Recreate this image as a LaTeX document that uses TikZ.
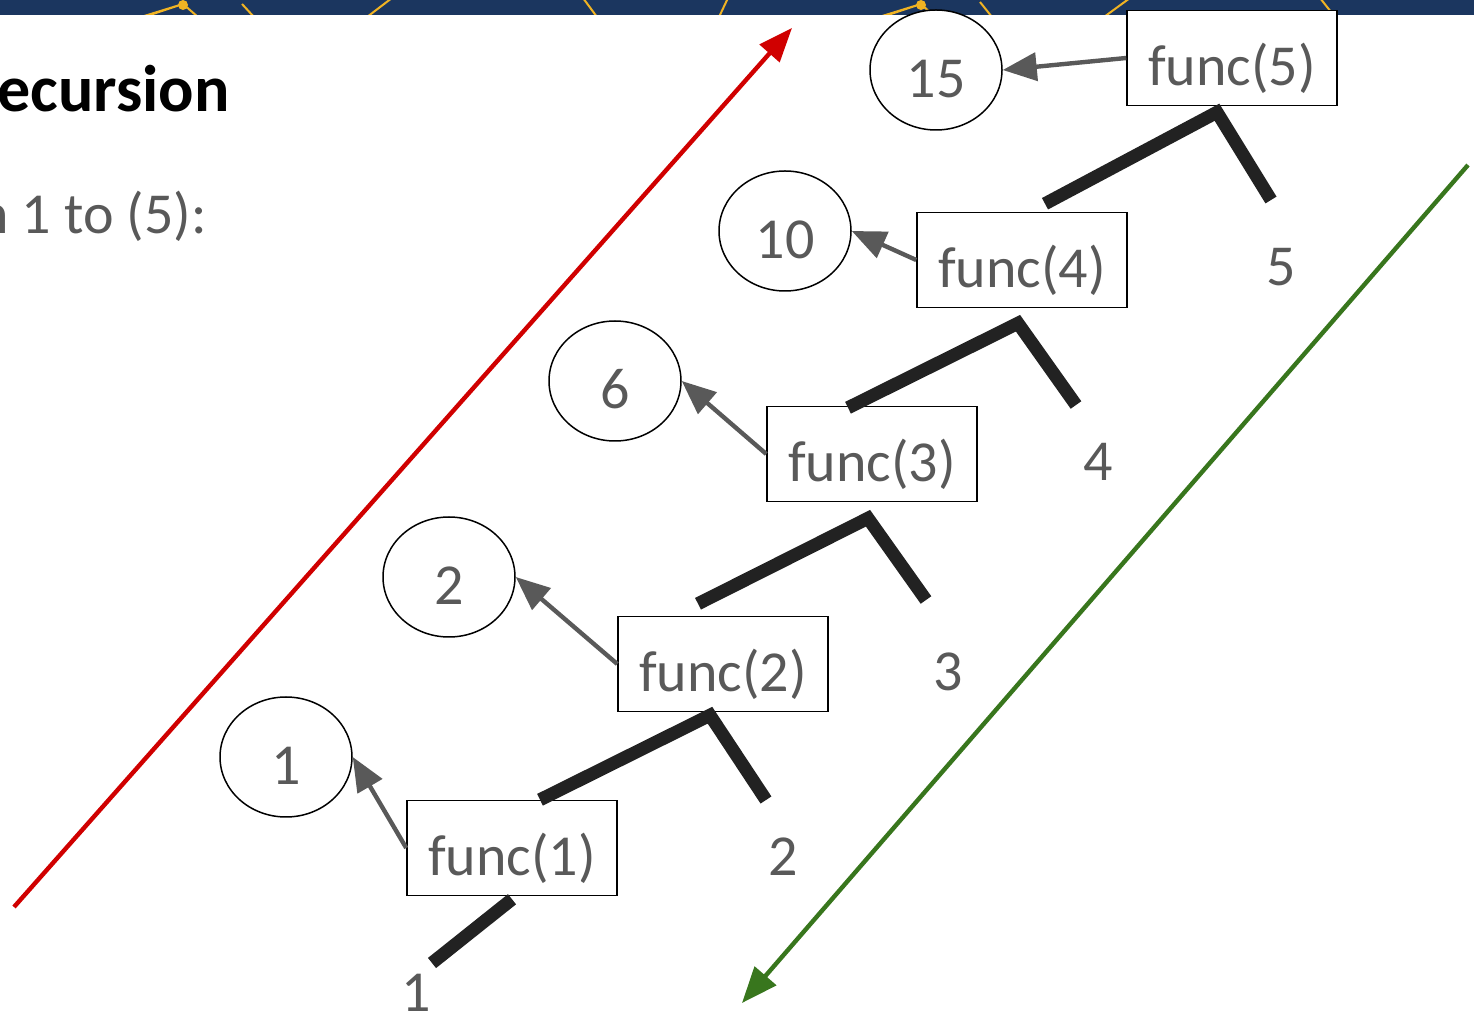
\documentclass[tikz,border=0pt]{standalone}
\usepackage{fontspec}
\setmainfont{Carlito}
\usetikzlibrary{shapes.geometric,arrows.meta}

\definecolor{txtgray}{HTML}{595959}
\definecolor{edgeblk}{HTML}{222222}
\definecolor{bannerblue}{HTML}{1B365F}
\definecolor{bannergold}{HTML}{F0B323}
\definecolor{upred}{HTML}{D00000}
\definecolor{downgreen}{HTML}{38761D}

\newcommand{\functxt}{\fontsize{29}{35}\selectfont}

\begin{document}
\begin{tikzpicture}[
  x=0.5pt, y=-0.5pt,
  callbox/.style={
    draw=black, line width=0.75pt, fill=white,
    minimum width=105pt, minimum height=47.5pt, inner sep=0pt,
    text height=28pt, text depth=0pt,
    text=txtgray, font=\functxt
  },
  result/.style={
    ellipse, draw=black, line width=0.75pt, fill=white,
    minimum width=66pt, minimum height=60pt, inner sep=0pt,
    text height=28pt, text depth=0pt,
    text=txtgray, font=\functxt
  },
  argnum/.style={inner sep=0pt, text=txtgray, font=\functxt},
  giveback/.style={
    draw=txtgray, line width=2.2pt,
    -{Triangle[length=17pt, width=14pt]}
  },
  branch/.style={draw=edgeblk, line width=6.5pt}
]
\useasboundingbox (0,0) rectangle (1474,1015);
\clip (0,0) rectangle (1474,1015);

% ================= BANNER =================
\fill[bannerblue] (0,0) rectangle (1474,15);
\begin{scope}
\clip (0,0) rectangle (1474,15);
\draw[bannergold, line width=1pt]
  (141,17) -- (183,4) -- (198,17)
  (150,15) -- (183,4)
  (242,4) -- (254,17)
  (367,17) -- (392,-2)
  (583,-2) -- (597,17)
  (719,17) -- (728,-2)
  (879,17) -- (921,4) -- (935,17)
  (888,15) -- (921,4)
  (980,2) -- (992,17)
  (1104,17) -- (1130,-2)
  (1320,-2) -- (1335,17);
\fill[bannergold] (183,5) circle (5) (921,5) circle (5);
\end{scope}

% ================= TITLE =================
\node[anchor=base west, inner sep=0pt, font=\fontsize{33}{40}\selectfont\bfseries]
  (title) at (-3,112) {ecursion};
\node[anchor=base west, inner sep=0pt, text=txtgray, font=\functxt]
  (subtitle) at (-22,234) {n 1 to (5):};

% ================= CALLS =================
\foreach \k/\bx/\by/\cx/\cy/\val/\nx/\ny in {
  1/512/848/286/757/1/416/993,
  2/723/664/449/577/2/783/857,
  3/872/454/615/381/6/948/672,
  4/1022/260/785/231/10/1098/462,
  5/1232/58/936/70/15/1281/267}
{
  \node[callbox] (f\k) at (\bx,\by) {func(\k)};
  \node[result]  (c\k) at (\cx,\cy) {\val};
  \node[argnum]  (n\k) at (\nx,\ny) {\k};
  \draw[giveback] (f\k.west) -- (c\k.east);
}

% ================= TREE =================
\draw[branch] ([shift={(0,3)}]f1.south) -- ([shift={(16,-30)}]n1.center);
\draw[branch] ([shift={(28,0)}]f1.north) -- ([shift={(-13,3)}]f2.south)
  -- ([shift={(-17,-57)}]n2.center);
\draw[branch] ([shift={(-25,-12)}]f2.north) -- ([shift={(-4,16)}]f3.south)
  -- ([shift={(-22,-72)}]n3.center);
\draw[branch] ([shift={(-24,2)}]f3.north) -- ([shift={(-4,15)}]f4.south)
  -- ([shift={(-22,-57)}]n4.center);
\draw[branch] ([shift={(23,-8)}]f4.north) -- ([shift={(-15,6)}]f5.south)
  -- ([shift={(-10,-67)}]n5.center);

% ================= DIRECTION ARROWS =================
\coordinate (upfrom) at (14,907);
\coordinate (upto) at (792,28);
\coordinate (downfrom) at (1468,165);
\coordinate (downto) at (742,1003);
\draw[upred, line width=2.2pt, -{Triangle[length=17pt, width=13pt]}]
  (upfrom) -- (upto);
\draw[downgreen, line width=2.2pt, -{Triangle[length=18pt, width=14pt]}]
  (downfrom) -- (downto);

\end{tikzpicture}
\end{document}
